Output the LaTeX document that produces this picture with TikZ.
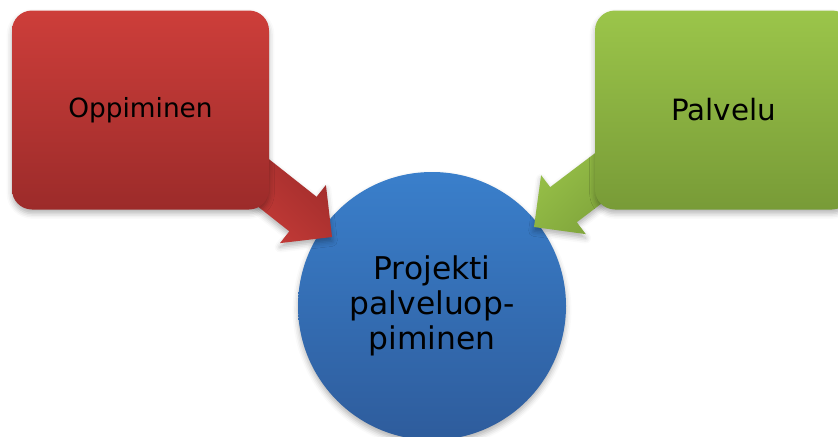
\documentclass[tikz,border=0pt]{standalone}
\usepackage{fontspec}
\setmainfont{DejaVu Sans}
\usetikzlibrary{shadows.blur}
\definecolor{redtop}{HTML}{CD3E3A}
\definecolor{redbot}{HTML}{9C2B2A}
\definecolor{greentop}{HTML}{9BC54A}
\definecolor{greenbot}{HTML}{789B37}
\definecolor{bluetop}{HTML}{3A7FCB}
\definecolor{bluebot}{HTML}{2E5C9C}
\tikzset{
  softshadow/.style={blur shadow={shadow xshift=0pt, shadow yshift=-3pt, shadow blur radius=4pt, shadow opacity=30}},
  boxnode/.style={rectangle, rounded corners=15pt, minimum width=192.75pt, minimum height=149.25pt, inner sep=0pt, softshadow},
  blockarrow/.style={softshadow},
}
\begin{document}
\begin{tikzpicture}[x=0.75pt,y=-0.75pt]
\useasboundingbox (0,0) rectangle (838,436);
\clip (0,0) rectangle (838,436);

% central circle
\node[circle, minimum size=201pt, inner sep=0pt, top color=bluetop, bottom color=bluebot, softshadow,
      align=center, font=\fontsize{23.5pt}{26.5pt}\selectfont] (proj) at (432,306)
  {Projekti\\palveluop-\\piminen};

% block arrows
\path[blockarrow, top color=redbot, bottom color=redtop, shading angle=-45]
  (227.9,126.7) -- (316.6,196.8) -- (325.9,185.0) -- (332,237) -- (280.0,243.1) -- (289.3,231.3) -- (200.6,161.3) -- cycle;
\path[blockarrow, top color=greentop, bottom color=greenbot, shading angle=45]
  (640.3,118.9) -- (550.2,187.1) -- (541.1,175.2) -- (534,227) -- (585.8,234.1) -- (576.8,222.2) -- (666.8,153.9) -- cycle;

% boxes
\node[boxnode, top color=redtop, bottom color=redbot, font=\fontsize{19.8pt}{23pt}\selectfont] (opp) at (140.5,110) {Oppiminen};
\node[boxnode, top color=greentop, bottom color=greenbot, font=\fontsize{22pt}{25pt}\selectfont] (pal) at (723.5,110) {Palvelu};
\end{tikzpicture}
\end{document}
